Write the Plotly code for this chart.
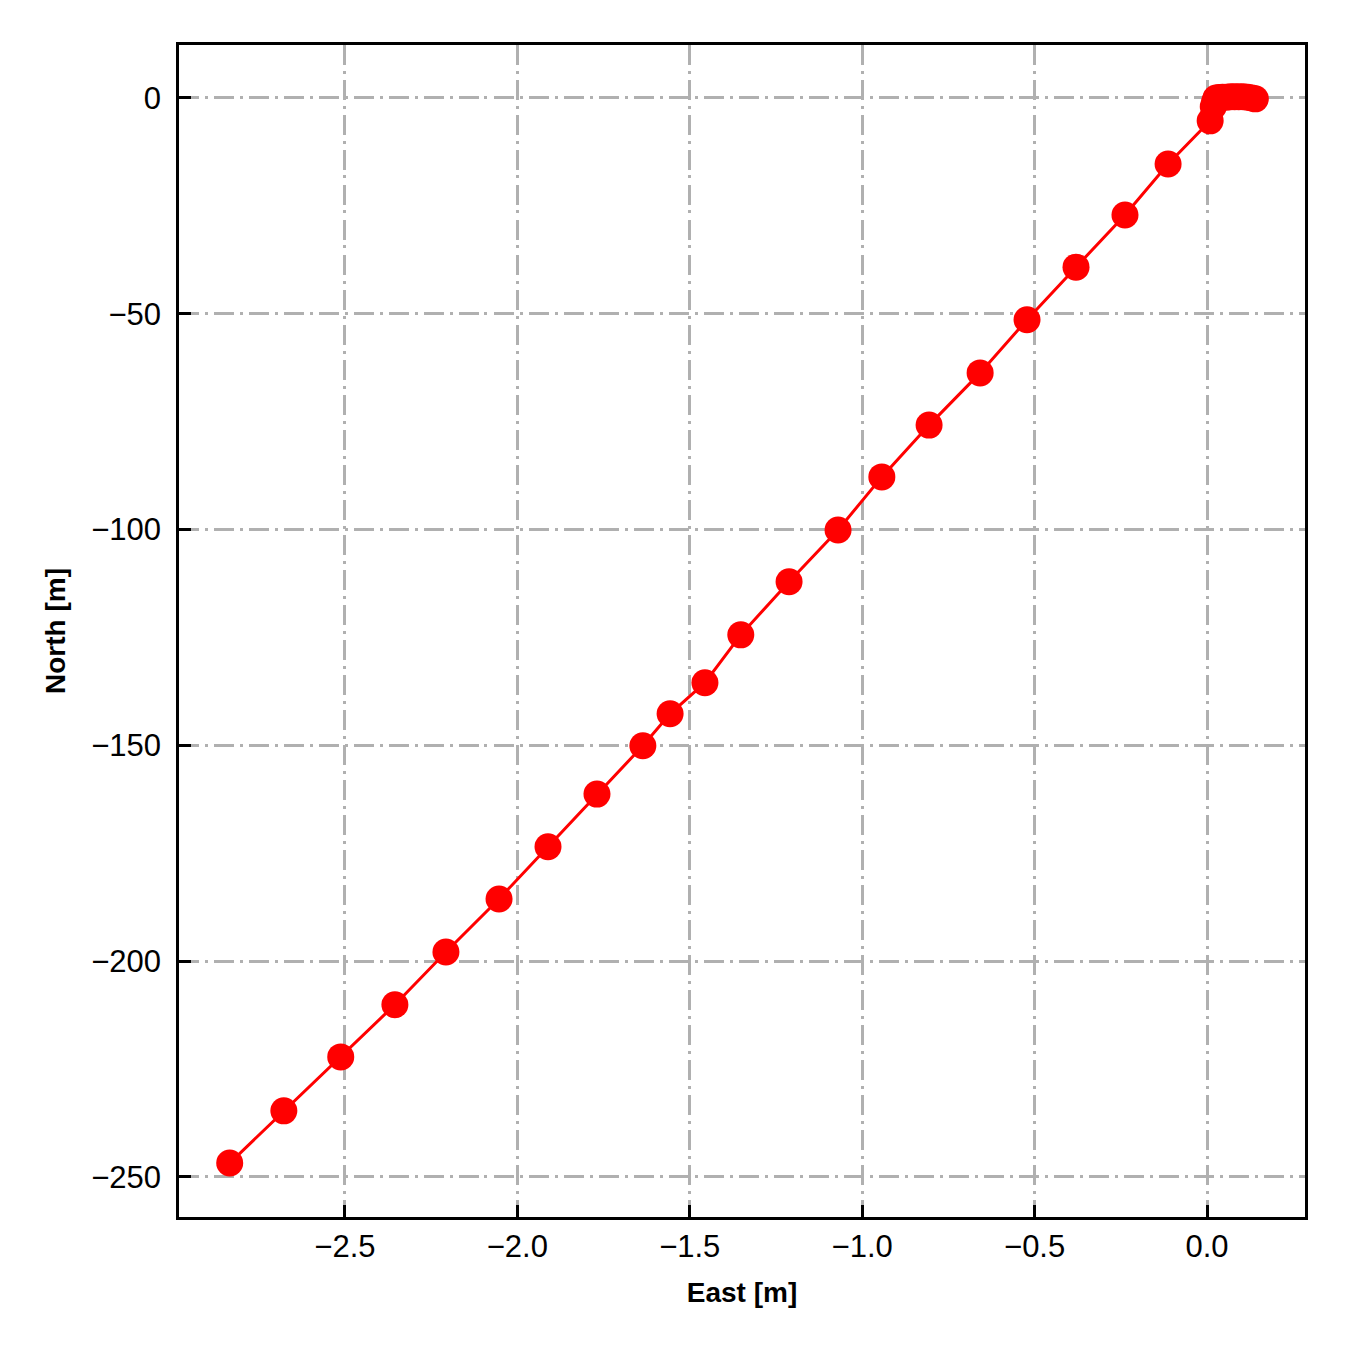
import plotly.graph_objects as go

east = [0.140, 0.130, 0.118, 0.105, 0.092, 0.080, 0.068, 0.056, 0.045, 0.035, 0.026, 0.022, 0.018,
        0.009, -0.113, -0.238, -0.380, -0.522, -0.658, -0.806, -0.943, -1.070, -1.212,
        -1.352, -1.456, -1.557, -1.636, -1.769, -1.911, -2.053, -2.207, -2.355, -2.512,
        -2.677, -2.834]
north = [-0.2, 0.0, 0.2, 0.3, 0.3, 0.3, 0.3, 0.2, 0.2, 0.1, 0.0, -0.8, -2.0,
         -5.3, -15.3, -27.1, -39.2, -51.4, -63.7, -75.8, -87.8, -100.1, -112.1,
         -124.4, -135.5, -142.7, -150.1, -161.3, -173.5, -185.6, -197.9, -210.1, -222.2,
         -234.7, -246.8]

xticks = [-2.5, -2.0, -1.5, -1.0, -0.5, 0.0]
xlabels = ["\u22122.5", "\u22122.0", "\u22121.5", "\u22121.0", "\u22120.5", "0.0"]
yticks = [0, -50, -100, -150, -200, -250]
ylabels = ["0", "\u221250", "\u2212100", "\u2212150", "\u2212200", "\u2212250"]

fig = go.Figure()
fig.add_trace(go.Scatter(
    x=east, y=north, mode="lines+markers",
    line=dict(color="#ff0000", width=3),
    marker=dict(color="#ff0000", size=27, line=dict(width=0)),
    showlegend=False,
))

font = "Liberation Sans, Arial, sans-serif"
axis_common = dict(
    showline=True, linecolor="black", linewidth=2.5, mirror=True,
    ticks="inside", ticklen=12, tickwidth=2.5, tickcolor="black",
    showgrid=True, gridcolor="#b0b0b0", gridwidth=2.5, griddash="20px,5.5px,3px,6.5px",
    zeroline=False,
    tickfont=dict(family=font, size=31, color="black"),
)

fig.update_xaxes(range=[-2.981, 0.284], tickvals=xticks, ticktext=xlabels,
                 title=dict(text="<b>East [m]</b>", font=dict(family=font, size=28, color="black"), standoff=20),
                 **axis_common)
fig.update_yaxes(range=[-259.3, 12.28], tickvals=yticks, ticktext=ylabels,
                 ticklabelstandoff=9,
                 title=dict(text="<b>North [m]</b>", font=dict(family=font, size=28, color="black"), standoff=18),
                 **axis_common)

# the page body adds an 8 px margin, so the figure is shrunk and shifted to keep the plot area in place
fig.update_layout(
    width=1342, height=1342,
    margin=dict(l=171, r=45, t=37, b=133),
    paper_bgcolor="white", plot_bgcolor="white",
)

fig.write_html("out.html")
